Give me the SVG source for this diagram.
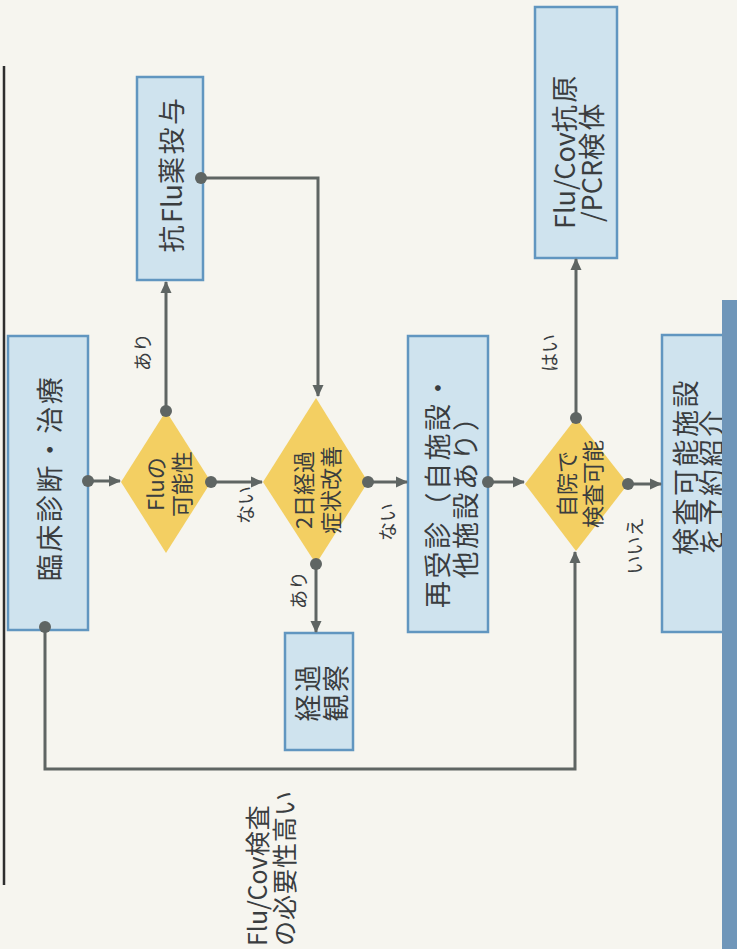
<svg xmlns="http://www.w3.org/2000/svg" width="737" height="949" viewBox="0 0 737 949">
  <defs>
    <style>
      .box { fill: #cfe3ee; stroke: #6196c0; stroke-width: 2.5; }
      .dia { fill: #f3cf62; stroke: none; }
      .wire { fill: none; stroke: #5f6563; stroke-width: 3; }
      .dot { fill: #5f6563; }
      .t { font-family: "Noto Sans CJK JP", "Noto Sans", sans-serif; fill: #3a3d3f; dominant-baseline: central; }
      .tb { font-size: 27px; letter-spacing: 2.5px; }
      .td { font-size: 22px; }
      .tl { font-size: 19px; }
      .tn { font-size: 25px; letter-spacing: 1px; }
      .lat { letter-spacing: 0; }
    </style>
    <marker id="arr" viewBox="0 0 12 12" refX="11" refY="6" markerWidth="12" markerHeight="12" markerUnits="userSpaceOnUse" orient="auto">
      <path d="M0,0.5 L12,6 L0,11.5 Z" fill="#5f6563"/>
    </marker>
  </defs>

  <!-- page -->
  <rect x="0" y="0" width="737" height="949" fill="#f6f5ef"/>
  <line x1="4" y1="66" x2="4" y2="885" stroke="#2e2e2e" stroke-width="2.5"/>

  <!-- nodes -->
  <g id="clinical">
    <rect class="box" x="8" y="336" width="80" height="294"/>
    <text class="t tb" text-anchor="middle" transform="translate(48,478) rotate(-90)">臨床診断・治療</text>
  </g>

  <g id="antiflu">
    <rect class="box" x="137" y="77" width="66" height="203"/>
    <text class="t tb" text-anchor="middle" transform="translate(170,174) rotate(-90)">抗<tspan class="lat">Flu</tspan>薬投与</text>
  </g>

  <g id="flu-possible">
    <polygon class="dia" points="166,411 211,482 166,553 121,482"/>
    <text class="t td" text-anchor="middle" transform="translate(154,484) rotate(-90)">Fluの</text>
    <text class="t td" text-anchor="middle" transform="translate(180,484) rotate(-90)">可能性</text>
  </g>

  <g id="two-days">
    <polygon class="dia" points="316,398 368,482 316,564 263,482"/>
    <text class="t td" text-anchor="middle" transform="translate(302,490) rotate(-90)">2日経過</text>
    <text class="t td" text-anchor="middle" transform="translate(329,490) rotate(-90)">症状改善</text>
  </g>

  <g id="observe">
    <rect class="box" x="285" y="633" width="68" height="117"/>
    <text class="t tb" text-anchor="middle" transform="translate(306,692) rotate(-90)">経過</text>
    <text class="t tb" text-anchor="middle" transform="translate(334,692) rotate(-90)">観察</text>
  </g>

  <g id="revisit">
    <rect class="box" x="408" y="336" width="80" height="296"/>
    <text class="t tb" text-anchor="middle" transform="translate(436,490) rotate(-90)">再受診（自施設・</text>
    <text class="t tb" text-anchor="middle" transform="translate(464,490) rotate(-90)">他施設あり）</text>
  </g>

  <g id="own-hospital">
    <polygon class="dia" points="576,418 628,484 576,551 525,484"/>
    <text class="t td" text-anchor="middle" transform="translate(565,484) rotate(-90)">自院で</text>
    <text class="t td" text-anchor="middle" transform="translate(591,484) rotate(-90)">検査可能</text>
  </g>

  <g id="specimen">
    <rect class="box" x="535" y="7" width="82" height="251"/>
    <text class="t tb" text-anchor="start" transform="translate(563,229) rotate(-90)"><tspan class="lat">Flu/Cov</tspan>抗原</text>
    <text class="t tb" text-anchor="start" transform="translate(590,222) rotate(-90)"><tspan class="lat">/PCR</tspan>検体</text>
  </g>

  <g id="referral">
    <rect class="box" x="662" y="335" width="70" height="297"/>
    <text class="t tb" text-anchor="start" transform="translate(684,555) rotate(-90)">検査可能施設</text>
    <text class="t tb" text-anchor="start" transform="translate(710,555) rotate(-90)">を予約紹介</text>
  </g>

  <!-- page edge band -->
  <rect x="722" y="300" width="15" height="649" fill="#6f96b9"/>

  <!-- connectors -->
  <g id="connectors">
    <line class="wire" x1="88" y1="481" x2="120" y2="481" marker-end="url(#arr)"/>
    <circle class="dot" cx="88" cy="481" r="6"/>

    <line class="wire" x1="166" y1="411" x2="166" y2="282" marker-end="url(#arr)"/>
    <circle class="dot" cx="166" cy="411" r="6"/>

    <polyline class="wire" points="201,178 318,178 318,396" marker-end="url(#arr)"/>
    <circle class="dot" cx="201" cy="178" r="6"/>

    <line class="wire" x1="211" y1="482" x2="262" y2="482" marker-end="url(#arr)"/>
    <circle class="dot" cx="211" cy="482" r="6"/>

    <line class="wire" x1="316" y1="564" x2="316" y2="632" marker-end="url(#arr)"/>
    <circle class="dot" cx="316" cy="564" r="6"/>

    <line class="wire" x1="368" y1="482" x2="407" y2="482" marker-end="url(#arr)"/>
    <circle class="dot" cx="368" cy="482" r="6"/>

    <line class="wire" x1="488" y1="482" x2="524" y2="482" marker-end="url(#arr)"/>
    <circle class="dot" cx="488" cy="482" r="6"/>

    <line class="wire" x1="576" y1="418" x2="576" y2="259" marker-end="url(#arr)"/>
    <circle class="dot" cx="576" cy="418" r="6"/>

    <line class="wire" x1="628" y1="484" x2="661" y2="484" marker-end="url(#arr)"/>
    <circle class="dot" cx="628" cy="484" r="6"/>

    <polyline class="wire" points="45,627 45,769 575,769 575,552" marker-end="url(#arr)"/>
    <circle class="dot" cx="45" cy="627" r="6"/>

    <!-- branch labels -->
    <text class="t tl" text-anchor="middle" transform="translate(141,352) rotate(-90)">あり</text>
    <text class="t tl" text-anchor="middle" transform="translate(244,505) rotate(-90)">ない</text>
    <text class="t tl" text-anchor="middle" transform="translate(297,590) rotate(-90)">あり</text>
    <text class="t tl" text-anchor="middle" transform="translate(386,522) rotate(-90)">ない</text>
    <text class="t tl" text-anchor="middle" transform="translate(548,353) rotate(-90)">はい</text>
    <text class="t tl" text-anchor="middle" transform="translate(633,546) rotate(-90)">いいえ</text>

    <text class="t tn" text-anchor="start" transform="translate(256,946) rotate(-90)"><tspan class="lat">Flu/Cov</tspan>検査</text>
    <text class="t tn" text-anchor="start" transform="translate(283,946) rotate(-90)">の必要性高い</text>
  </g>
</svg>
